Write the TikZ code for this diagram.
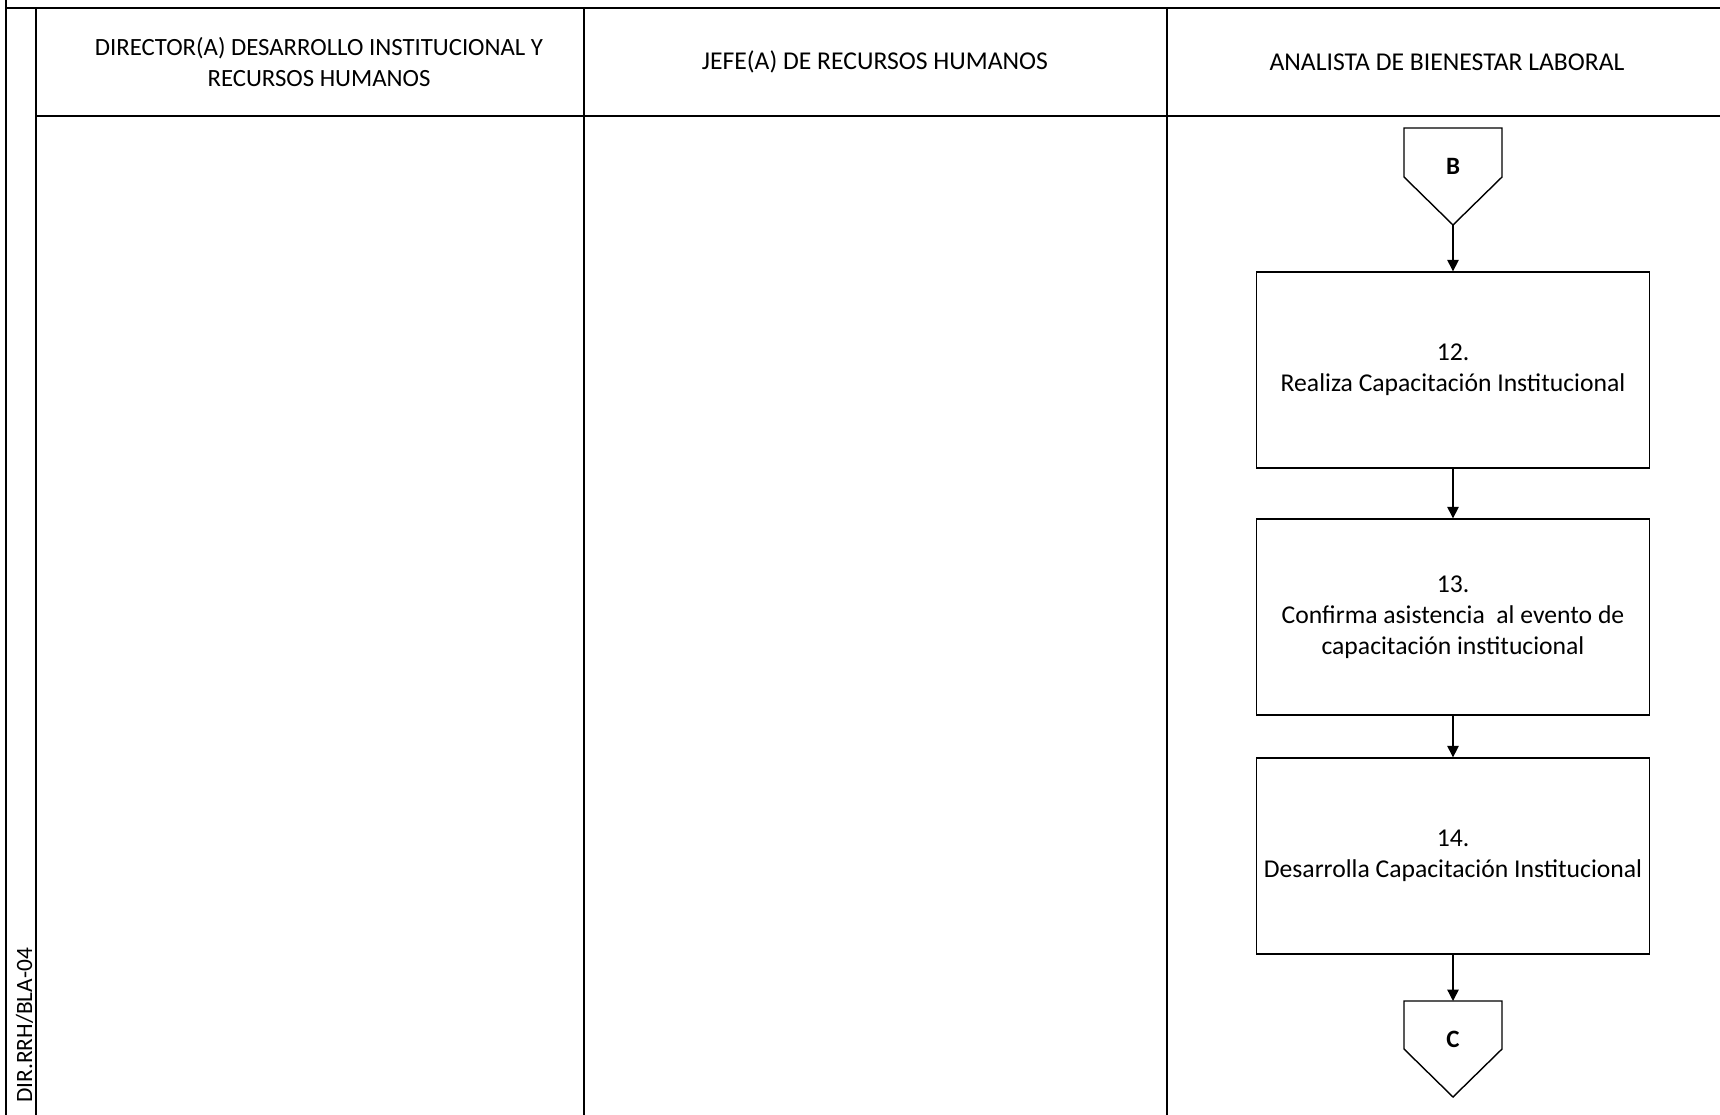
\documentclass[tikz,border=0pt]{standalone}
\usepackage{fontspec}
\setmainfont{Carlito}
\usetikzlibrary{arrows.meta}

\tikzset{
  lane/.style={line width=1.1pt},
  hdr/.style={align=center, inner sep=0pt},
  task/.style={draw, line width=0.8pt, minimum width=7.86cm, minimum height=3.92cm, align=center, inner sep=0pt},
  offpage/.style={draw, line width=0.8pt},
  conn/.style={inner sep=0pt, font=\fontsize{14.2}{17.5}\selectfont\bfseries},
  flow/.style={-{Triangle[width=6.5pt,length=6.5pt]}, line width=0.8pt},
}

\begin{document}
\begin{tikzpicture}[x=0.02cm, y=-0.02cm, font=\fontsize{14.6}{17.5}\selectfont]
  \useasboundingbox (0,0) rectangle (1720,1115);
  % swimlane frame
  \draw[lane] (6,0)--(6,1115);
  \draw[lane] (6,8)--(1720,8);
  \draw[lane] (36,8)--(36,1115);
  \draw[lane] (36,116)--(1720,116);
  \draw[lane] (584,8)--(584,1115);
  \draw[lane] (1167,8)--(1167,1115);
  % lane headers
  \node[hdr, font=\fontsize{14.1}{17.5}\selectfont] (h1) at (319,62) {DIRECTOR(A) DESARROLLO INSTITUCIONAL Y\\RECURSOS HUMANOS};
  \node[hdr] (h2) at (875,62) {JEFE(A) DE RECURSOS HUMANOS};
  \node[hdr] (h3) at (1447,62) {ANALISTA DE BIENESTAR LABORAL};
  \node[rotate=90, anchor=base west, inner sep=0pt, font=\fontsize{13.3}{15}\selectfont] (code) at (32,1103) {DIR.RRH/BLA-04};
  % connector B
  \draw[offpage] (1404,128)--(1502,128)--(1502,177)--(1453,225)--(1404,177)--cycle;
  \node[conn] (B) at (1453,166) {B};
  \coordinate (Btip) at (1453,225);
  % activities
  \node[task] (t12) at (1453,370) {12.\\Realiza Capacitación Institucional};
  \node[task] (t13) at (1453,617) {13.\\Confirma asistencia\ \ al evento de\\capacitación institucional};
  \node[task] (t14) at (1453,856) {14.\\Desarrolla Capacitación Institucional};
  % connector C
  \draw[offpage] (1404,1001)--(1502,1001)--(1502,1049)--(1453,1097)--(1404,1049)--cycle;
  \node[conn] (C) at (1453,1039) {C};
  \coordinate (Ctop) at (1453,1001);
  % flow
  \draw[flow] (Btip)--(t12);
  \draw[flow] (t12)--(t13);
  \draw[flow] (t13)--(t14);
  \draw[flow] (t14)--(Ctop);
\end{tikzpicture}
\end{document}
